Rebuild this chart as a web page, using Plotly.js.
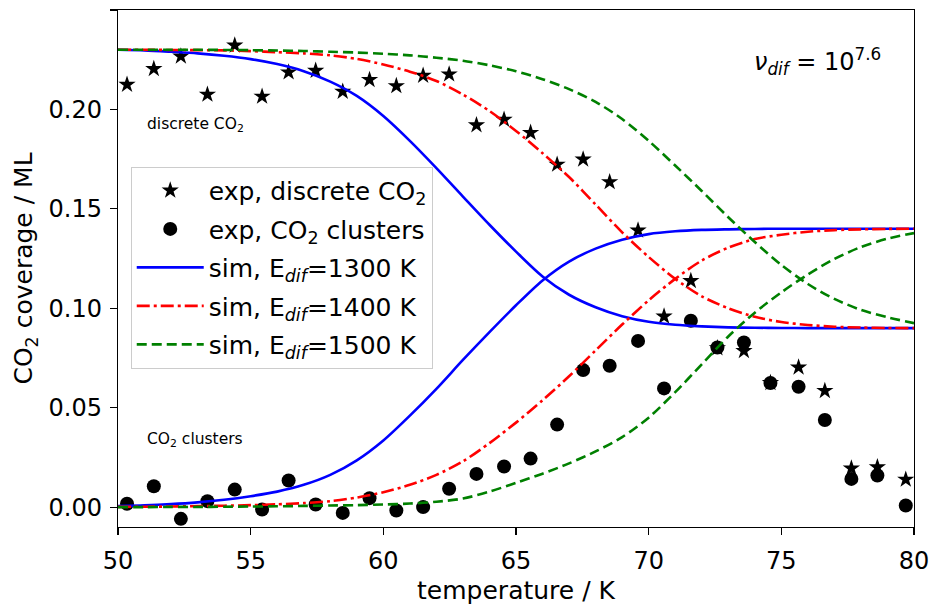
<!DOCTYPE html>
<html>
<head>
<meta charset="utf-8">
<script src="https://cdn.plot.ly/plotly-3.0.1.min.js"></script>
<style>html,body{margin:0;padding:0;background:#fff;}#chart{width:930px;height:605px;}</style>
</head>
<body>
<div id="chart"></div>
<script>
// Experimental data
const expT = [50.34, 51.35, 52.37, 53.37, 54.40, 55.43, 56.43, 57.45, 58.47, 59.48, 60.49, 61.50, 62.48, 63.51, 64.55, 65.55, 66.55, 67.53, 68.53, 69.60, 70.58, 71.59, 72.59, 73.59, 74.59, 75.65, 76.64, 77.64, 78.62, 79.69];
const expDiscrete = [0.2125, 0.2204, 0.2267, 0.2075, 0.2322, 0.2065, 0.2187, 0.2195, 0.2090, 0.2149, 0.2118, 0.2170, 0.2177, 0.1921, 0.1949, 0.1883, 0.1723, 0.1749, 0.1635, 0.1392, 0.0959, 0.1138, 0.0800, 0.0786, 0.0625, 0.0703, 0.0585, 0.0195, 0.0201, 0.0139];
const expClusters = [0.0017, 0.0105, -0.0059, 0.0030, 0.0088, -0.0012, 0.0134, 0.0013, -0.0029, 0.0045, -0.0017, 0.0000, 0.0092, 0.0167, 0.0204, 0.0244, 0.0415, 0.0689, 0.0711, 0.0836, 0.0597, 0.0937, 0.0803, 0.0828, 0.0624, 0.0605, 0.0438, 0.0142, 0.0159, 0.0008];

// Simulation curves (sampled every 1 K)
const simT = [50,51,52,53,54,55,56,57,58,59,60,61,62,63,64,65,66,67,68,69,70,71,72,73,74,75,76,77,78,79,80];
const sim1300Discrete = [0.2300,0.2297,0.2290,0.2282,0.2270,0.2253,0.2228,0.2192,0.2140,0.2068,0.1967,0.1842,0.1705,0.1562,0.1420,0.1285,0.1160,0.1068,0.1005,0.0960,0.0932,0.0917,0.0909,0.0904,0.0902,0.0901,0.0900,0.0900,0.0900,0.0900,0.0900];
const sim1300Clusters = [0.0005,0.0009,0.0015,0.0024,0.0037,0.0055,0.0078,0.0112,0.0162,0.0235,0.0335,0.0460,0.0595,0.0740,0.0880,0.1015,0.1140,0.1235,0.1300,0.1345,0.1373,0.1387,0.1394,0.1397,0.1399,0.1400,0.1400,0.1400,0.1400,0.1400,0.1400];
const sim1400Discrete = [0.2300,0.2300,0.2299,0.2298,0.2297,0.2293,0.2288,0.2282,0.2272,0.2254,0.2226,0.2190,0.2143,0.2075,0.1992,0.1892,0.1780,0.1660,0.1522,0.1382,0.1258,0.1148,0.1060,0.1000,0.0957,0.0931,0.0916,0.0907,0.0903,0.0901,0.0900];
const sim1400Clusters = [0.0001,0.0002,0.0003,0.0005,0.0007,0.0010,0.0014,0.0020,0.0030,0.0048,0.0075,0.0112,0.0162,0.0230,0.0322,0.0425,0.0537,0.0658,0.0788,0.0918,0.1040,0.1148,0.1240,0.1305,0.1348,0.1370,0.1385,0.1393,0.1397,0.1399,0.1400];
const sim1500Discrete = [0.2300,0.2300,0.2300,0.2300,0.2299,0.2298,0.2296,0.2294,0.2290,0.2286,0.2280,0.2272,0.2260,0.2245,0.2222,0.2192,0.2152,0.2102,0.2038,0.1952,0.1842,0.1718,0.1590,0.1458,0.1333,0.1218,0.1122,0.1047,0.0992,0.0955,0.0925];
const sim1500Clusters = [0.0000,0.0000,0.0001,0.0001,0.0002,0.0003,0.0004,0.0006,0.0008,0.0010,0.0013,0.0018,0.0027,0.0043,0.0078,0.0122,0.0168,0.0220,0.0280,0.0352,0.0450,0.0578,0.0718,0.0858,0.0978,0.1080,0.1170,0.1248,0.1308,0.1350,0.1378];

const xTicks = [50,55,60,65,70,75,80];
const yTicks = [0.00,0.05,0.10,0.15,0.20,0.25];

const FONT = 'DejaVu Sans, sans-serif';
const lw = 2.6;
const traces = [
  {x: expT, y: expDiscrete, mode:'markers', type:'scatter', name:'exp, discrete CO<sub>2</sub>',
   marker:{symbol:'star', size:13, color:'black'}, legendgroup:'a'},
  {x: expT, y: expClusters, mode:'markers', type:'scatter', name:'exp, CO<sub>2</sub> clusters',
   marker:{symbol:'circle', size:14, color:'black'}, legendgroup:'b'},
  {x: simT, y: sim1300Discrete, mode:'lines', type:'scatter', name:'sim, E<sub><i>dif</i></sub>=1300 K',
   line:{color:'#0000ff', width:lw, shape:'spline', smoothing:0.8}, legendgroup:'c'},
  {x: simT, y: sim1300Clusters, mode:'lines', type:'scatter', showlegend:false,
   line:{color:'#0000ff', width:lw, shape:'spline', smoothing:0.8}, legendgroup:'c'},
  {x: simT, y: sim1400Discrete, mode:'lines', type:'scatter', name:'sim, E<sub><i>dif</i></sub>=1400 K',
   line:{color:'#ff0000', width:lw, dash:'13px,4px,3px,4px', shape:'spline', smoothing:0.8}, legendgroup:'d'},
  {x: simT, y: sim1400Clusters, mode:'lines', type:'scatter', showlegend:false,
   line:{color:'#ff0000', width:lw, dash:'13px,4px,3px,4px', shape:'spline', smoothing:0.8}, legendgroup:'d'},
  {x: simT, y: sim1500Discrete, mode:'lines', type:'scatter', name:'sim, E<sub><i>dif</i></sub>=1500 K',
   line:{color:'#008000', width:lw, dash:'10px,5px', shape:'spline', smoothing:0.8}, legendgroup:'e'},
  {x: simT, y: sim1500Clusters, mode:'lines', type:'scatter', showlegend:false,
   line:{color:'#008000', width:lw, dash:'10px,5px', shape:'spline', smoothing:0.8}, legendgroup:'e'}
];

const layout = {
  width: 930, height: 605,
  margin: {l:118, r:16, t:10, b:78},
  paper_bgcolor:'white', plot_bgcolor:'white',
  font: {family: FONT, size: 24, color:'black'},
  showlegend: true,
  legend: {x:0.016, y:0.697, xanchor:'left', yanchor:'top', traceorder:'grouped', tracegroupgap:3, itemwidth:67,
    font:{family:FONT, size:25, color:'black'}, bgcolor:'rgba(255,255,255,0.85)', bordercolor:'#cccccc', borderwidth:1},
  xaxis: {range:[50,80], tickvals:xTicks, ticktext:xTicks.map(String), ticks:'outside', ticklen:7, tickwidth:1.2,
    tickcolor:'black', showline:true, linecolor:'black', linewidth:1.2, mirror:true, showgrid:false, zeroline:false,
    ticklabelstandoff:5,
    tickfont:{size:24}, title:{text:'temperature / K', font:{size:25}, standoff:10}},
  yaxis: {range:[-0.01,0.25], tickvals:yTicks, ticktext:yTicks.map(v=>v.toFixed(2)), ticks:'outside', ticklen:7, tickwidth:1.2,
    tickcolor:'black', showline:true, linecolor:'black', linewidth:1.2, mirror:true, showgrid:false, zeroline:false,
    ticklabelstandoff:3,
    tickfont:{size:24}, title:{text:'CO<sub>2</sub> coverage / ML', font:{size:25}, standoff:8}},
  annotations: [
    {x:51.0, y:0.192, xref:'x', yref:'y', text:'discrete CO<sub>2</sub>', showarrow:false, xanchor:'left', yanchor:'middle', font:{size:15.5}},
    {x:51.0, y:0.034, xref:'x', yref:'y', text:'CO<sub>2</sub> clusters', showarrow:false, xanchor:'left', yanchor:'middle', font:{size:15.5}},
    {x:73.9, y:0.224, xref:'x', yref:'y', text:'<i>ν</i><sub><i>dif</i></sub> = 10<sup>7.6</sup>', showarrow:false, xanchor:'left', yanchor:'middle', font:{size:24}}
  ]
};

Plotly.newPlot('chart', traces, layout, {displayModeBar:false, staticPlot:true});
</script>
</body>
</html>
